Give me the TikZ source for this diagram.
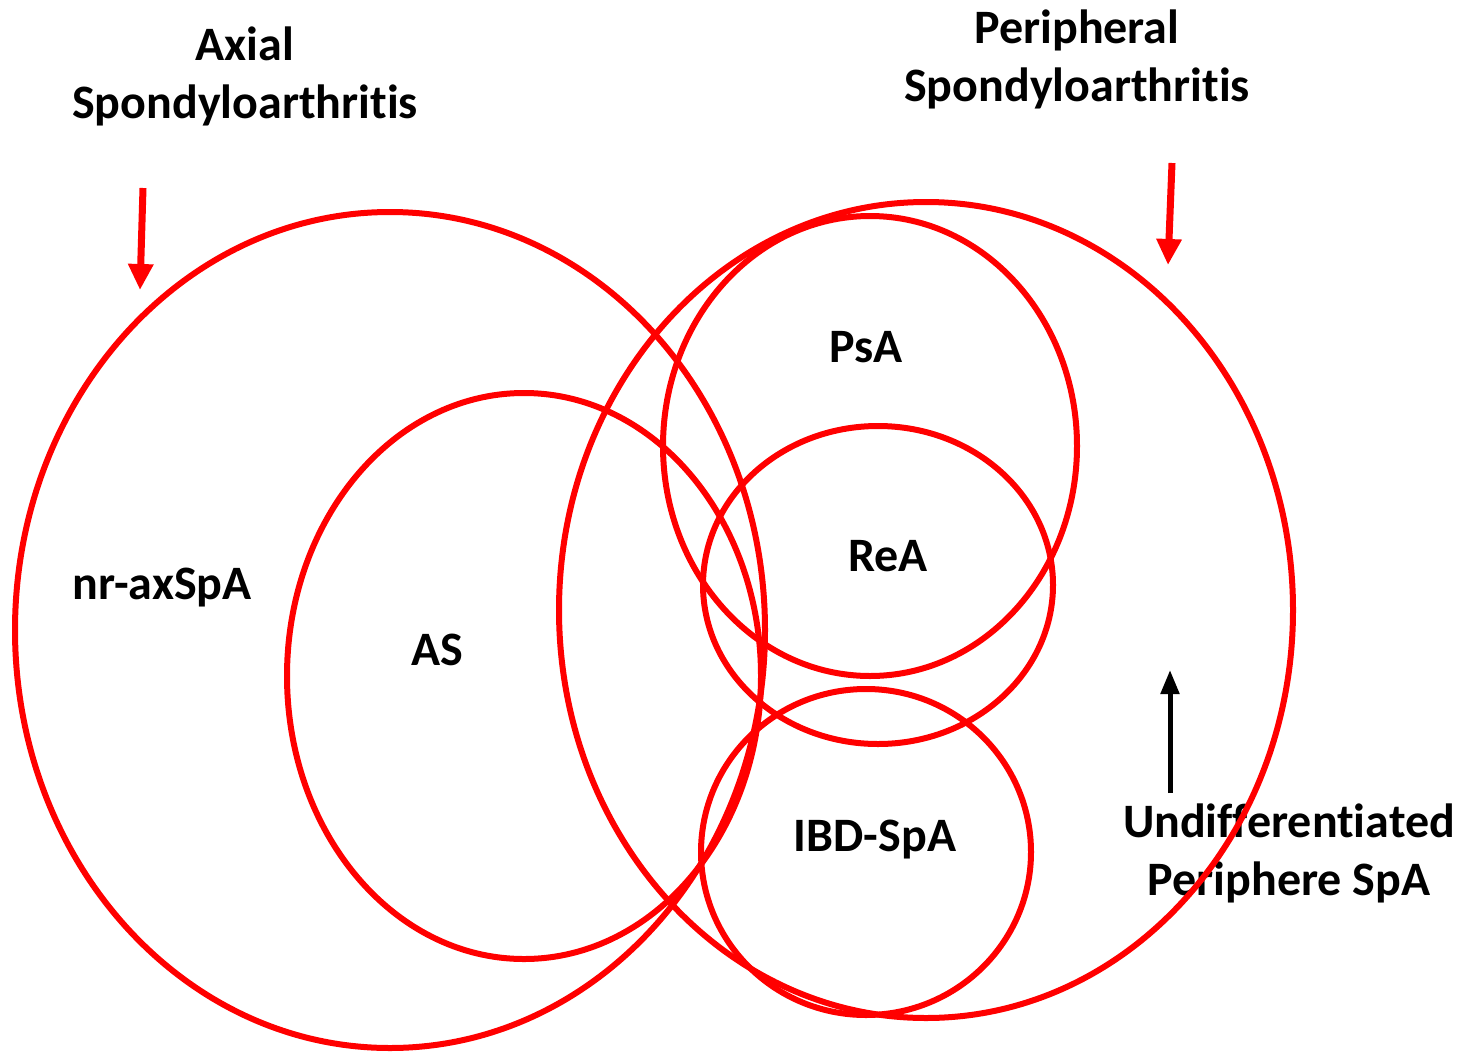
\documentclass[tikz,border=0pt]{standalone}
\usepackage{fontspec}
\setmainfont{Carlito}[Ligatures={NoCommon}]
\usetikzlibrary{arrows.meta}
\definecolor{vred}{RGB}{255,0,0}
\begin{document}
\begin{tikzpicture}[x=1pt,y=-1pt,
  ring/.style={draw=vred,line width=6pt},
  lbl/.style={font=\fontsize{48}{58}\selectfont\bfseries,align=center,inner sep=0pt},
  redarrow/.style={draw=vred,line width=7pt,-{Triangle[width=24pt,length=26pt]}},
  blackarrow/.style={draw=black,line width=5pt,-{Triangle[width=18pt,length=24pt]}}]
\useasboundingbox (0,0) rectangle (1461,1052);
\node[lbl] (axial) at (245,76) {Axial\\Spondyloarthritis};
\node[lbl] (periph) at (1077,59) {Peripheral\\Spondyloarthritis};
\node[lbl] (psa) at (866,347) {PsA};
\node[lbl] (rea) at (888,556) {ReA};
\node[lbl] (nr) at (162,588) {nr-axSpA};
\node[lbl] (as) at (437,650) {AS};
\node[lbl] (ibd) at (875,840) {IBD-SpA};
\node[lbl] (undiff) at (1289,853) {Undifferentiated\\Periphere SpA};
\draw[ring] (390,630) ellipse [x radius=375, y radius=418];
\draw[ring] (524,676) ellipse [x radius=237, y radius=283];
\draw[ring] (926,610) ellipse [x radius=367, y radius=408];
\draw[ring] (870,446) ellipse [x radius=207, y radius=230];
\draw[ring] (878,585) ellipse [x radius=175, y radius=159];
\draw[ring] (866,852) ellipse [x radius=165, y radius=163];
\coordinate (a1s) at (143,188);
\coordinate (a1e) at (140,290);
\coordinate (a2s) at (1172,163);
\coordinate (a2e) at (1168,265);
\coordinate (a3e) at (1170,670);
\draw[redarrow] (a1s) -- (a1e);
\draw[redarrow] (a2s) -- (a2e);
\draw[blackarrow] (undiff.north -| a3e) ++(0,-10) -- (a3e);
\end{tikzpicture}
\end{document}
